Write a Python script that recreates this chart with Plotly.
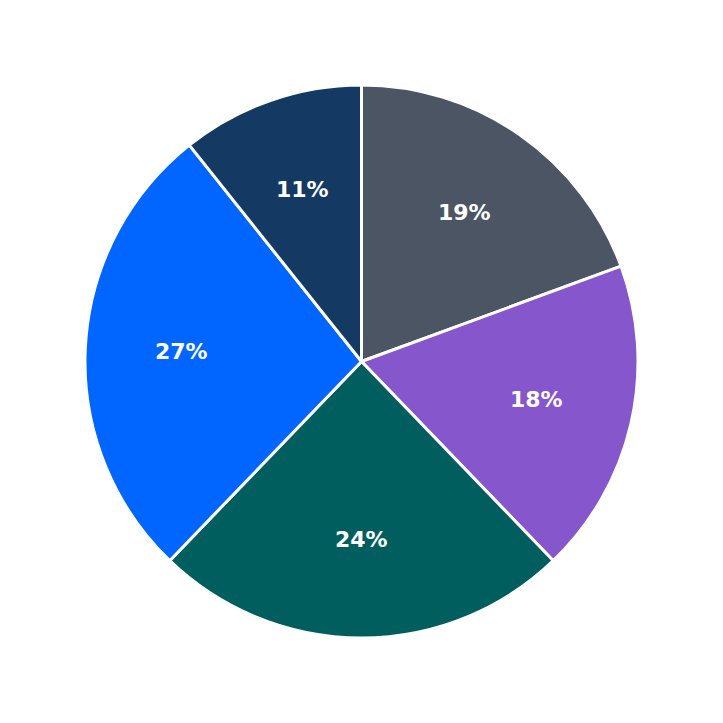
import math
import plotly.graph_objects as go

labels = ["A", "B", "C", "D", "E"]
values = [19.4, 18.4, 24.4, 27.1, 10.7]
colors = ["#4b5563", "#8556cc", "#005e5e", "#0066ff", "#143a63"]

fig = go.Figure(go.Pie(
    labels=labels,
    values=values,
    sort=False,
    direction="clockwise",
    rotation=0,
    marker=dict(colors=colors, line=dict(color="white", width=3)),
    textinfo="none",
    hoverinfo="label+percent",
    domain=dict(x=[0, 1], y=[0, 1]),
))

# percentage labels placed at 65% of the radius, at each slice's mid-angle
total = sum(values)
cum = 0.0
annotations = []
for v in values:
    frac = v / total
    mid = (cum + frac / 2) * 2 * math.pi
    cum += frac
    r = 0.5 * 0.65
    annotations.append(dict(
        x=0.5 + r * math.sin(mid), y=0.5 + r * math.cos(mid),
        xref="paper", yref="paper", xanchor="center", yanchor="middle",
        yshift=2,
        text="<b>%d%%</b>" % round(frac * 100), showarrow=False,
        font=dict(color="white", size=22, family="DejaVu Sans"),
    ))

fig.update_layout(
    width=723, height=723,
    margin=dict(l=85, r=85, t=85, b=85),
    showlegend=False,
    paper_bgcolor="white",
    plot_bgcolor="white",
    annotations=annotations,
)
fig.write_html("out.html")
